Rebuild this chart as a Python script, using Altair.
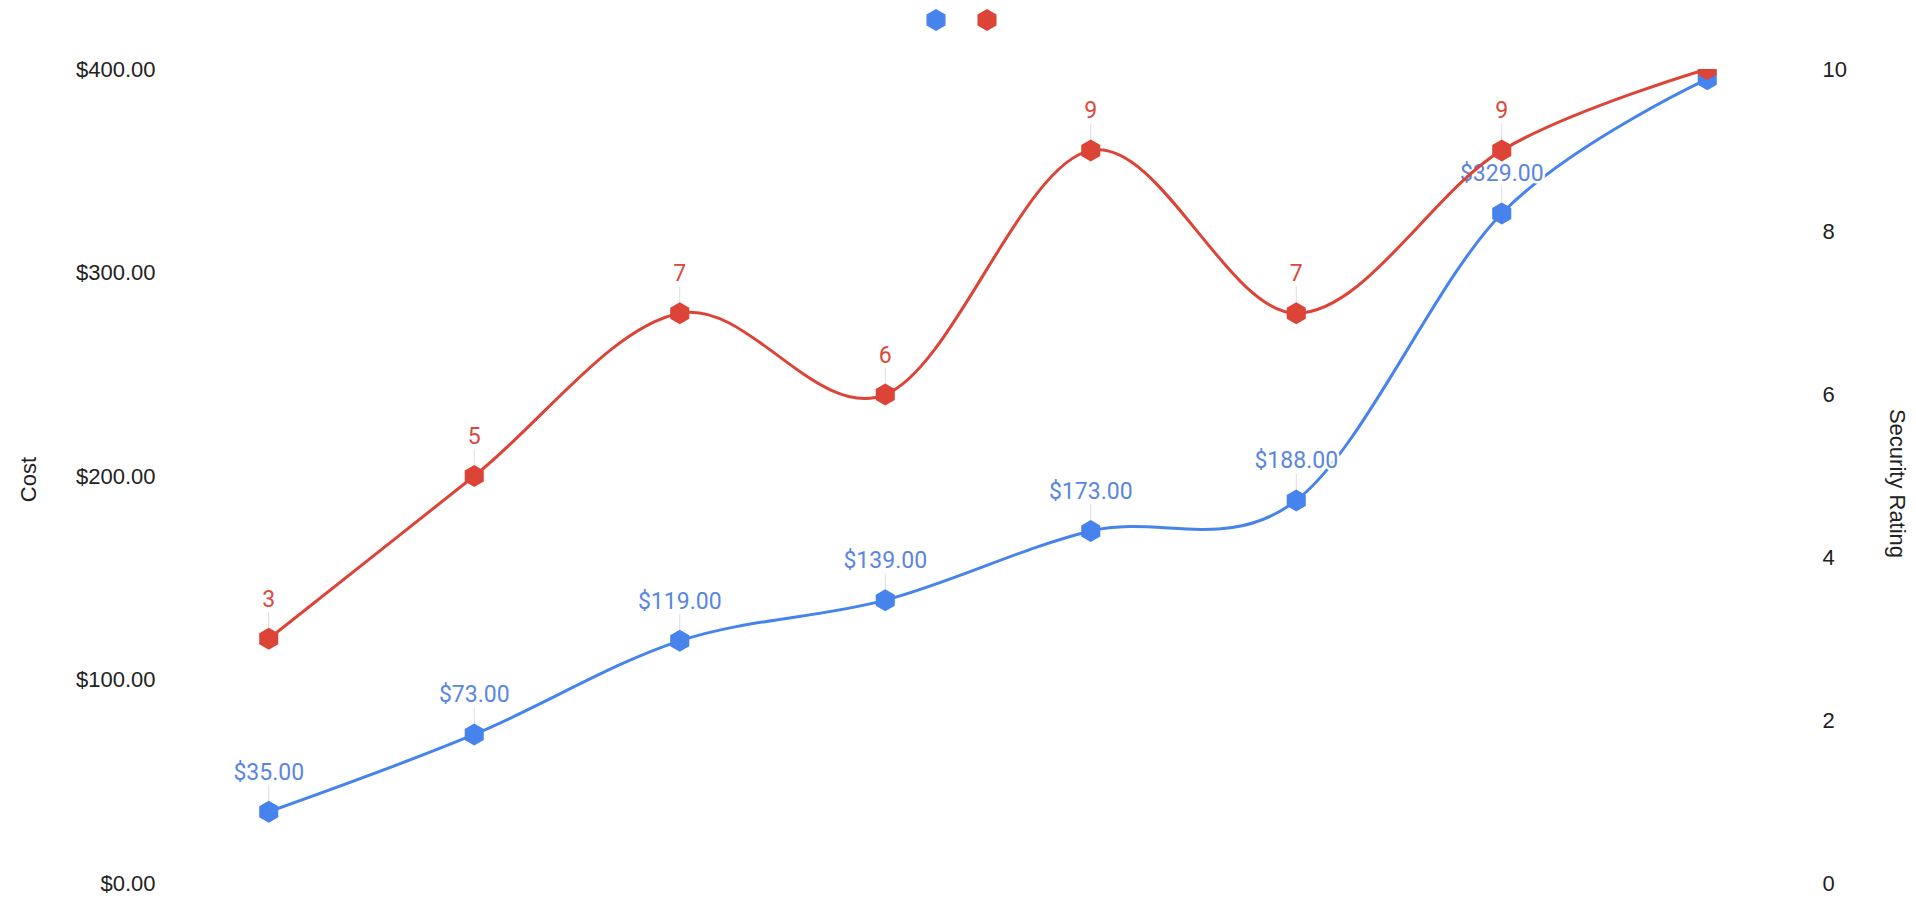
import altair as alt
import pandas as pd

# ---- data ----
idx = [0, 1, 2, 3, 4, 5, 6, 7]
cost = [35, 73, 119, 139, 173, 188, 329, 395]
rating = [3, 5, 7, 6, 9, 7, 9, 10]
series = ["Cost", "Security Rating"]
colors = ["#4683EC", "#DB4437"]
label_colors = ["#5A86E2", "#D9493D"]

HEX = "M0,-1L0.866,-0.5L0.866,0.5L0,1L-0.866,0.5L-0.866,-0.5Z"

df_cost = pd.DataFrame({"i": idx, "v": cost, "s": series[0]})
df_rate = pd.DataFrame({"i": idx, "v": rating, "s": series[1]})

x = alt.X("i:Q", scale=alt.Scale(domain=[-0.5, 7.5], nice=False, zero=False), axis=None)

color = alt.Color(
    "s:N",
    scale=alt.Scale(domain=series, range=colors),
    legend=alt.Legend(
        orient="none", legendX=759, legendY=-60, direction="horizontal",
        title=None, labelExpr="''", labelOffset=0, columnPadding=29,
        symbolType=HEX, symbolSize=484, symbolStrokeWidth=0, padding=0,
    ),
)

axis_common = dict(
    grid=False, domain=False, ticks=False,
    labelFontSize=22, labelFont="Liberation Sans", labelColor="#222222",
    titleFontSize=22, titleFont="Liberation Sans", titleFontWeight="normal",
    titleColor="#222222", titleBaseline="middle",
)

y_cost = alt.Y(
    "v:Q",
    scale=alt.Scale(domain=[0, 400], nice=False),
    axis=alt.Axis(title="Cost", format="$,.2f", values=[0, 100, 200, 300, 400],
                  labelPadding=11, titleX=-138, titleY=410, titleAngle=270,
                  **axis_common),
)
y_rate = alt.Y(
    "v:Q",
    scale=alt.Scale(domain=[0, 10], nice=False),
    axis=alt.Axis(title="Security Rating", orient="right", format="d",
                  values=[0, 2, 4, 6, 8, 10], labelPadding=12,
                  titleX=86, titleY=414, titleAngle=90, **axis_common),
)


def series_layer(df, y, col, lcol, fmt):
    base = alt.Chart(df).encode(x=x, y=y)
    line = base.mark_line(interpolate="cardinal", strokeWidth=3, color=col, clip=True)
    lab = base.transform_filter("datum.v < (datum.s == 'Cost' ? 380 : 9.5)")
    lead = lab.mark_rule(color="#dddddd", strokeWidth=1, yOffset=-10,
                         y2Offset=-27, clip=True).encode(y2=alt.Y2("v:Q"))
    halo = lab.mark_text(font="Roboto", fontSize=23, dy=-32, baseline="alphabetic",
                         stroke="white", strokeWidth=5, strokeJoin="round",
                         fill="white", clip=True).encode(
        text=alt.Text("v:Q", format=fmt))
    label = lab.mark_text(font="Roboto", fontSize=23, dy=-32, baseline="alphabetic",
                          color=lcol, clip=True).encode(
        text=alt.Text("v:Q", format=fmt))
    pts = base.mark_point(filled=True, shape=HEX, size=484, opacity=1,
                          strokeWidth=0, clip=True).encode(color=color)
    return alt.layer(line, lead, pts, halo, label)


chart = (
    alt.layer(
        series_layer(df_cost, y_cost, colors[0], label_colors[0], "$,.2f"),
        series_layer(df_rate, y_rate, colors[1], label_colors[1], "d"),
    )
    .resolve_scale(y="independent")
    .properties(
        width=1644, height=814,
        autosize=alt.AutoSizeParams(type="none"),
        padding={"left": 158, "top": 61, "right": 98, "bottom": 12},
        background="white",
    )
    .configure_view(stroke=None)
)

chart.save("out.html", embed_options={"renderer": "svg", "actions": False})
